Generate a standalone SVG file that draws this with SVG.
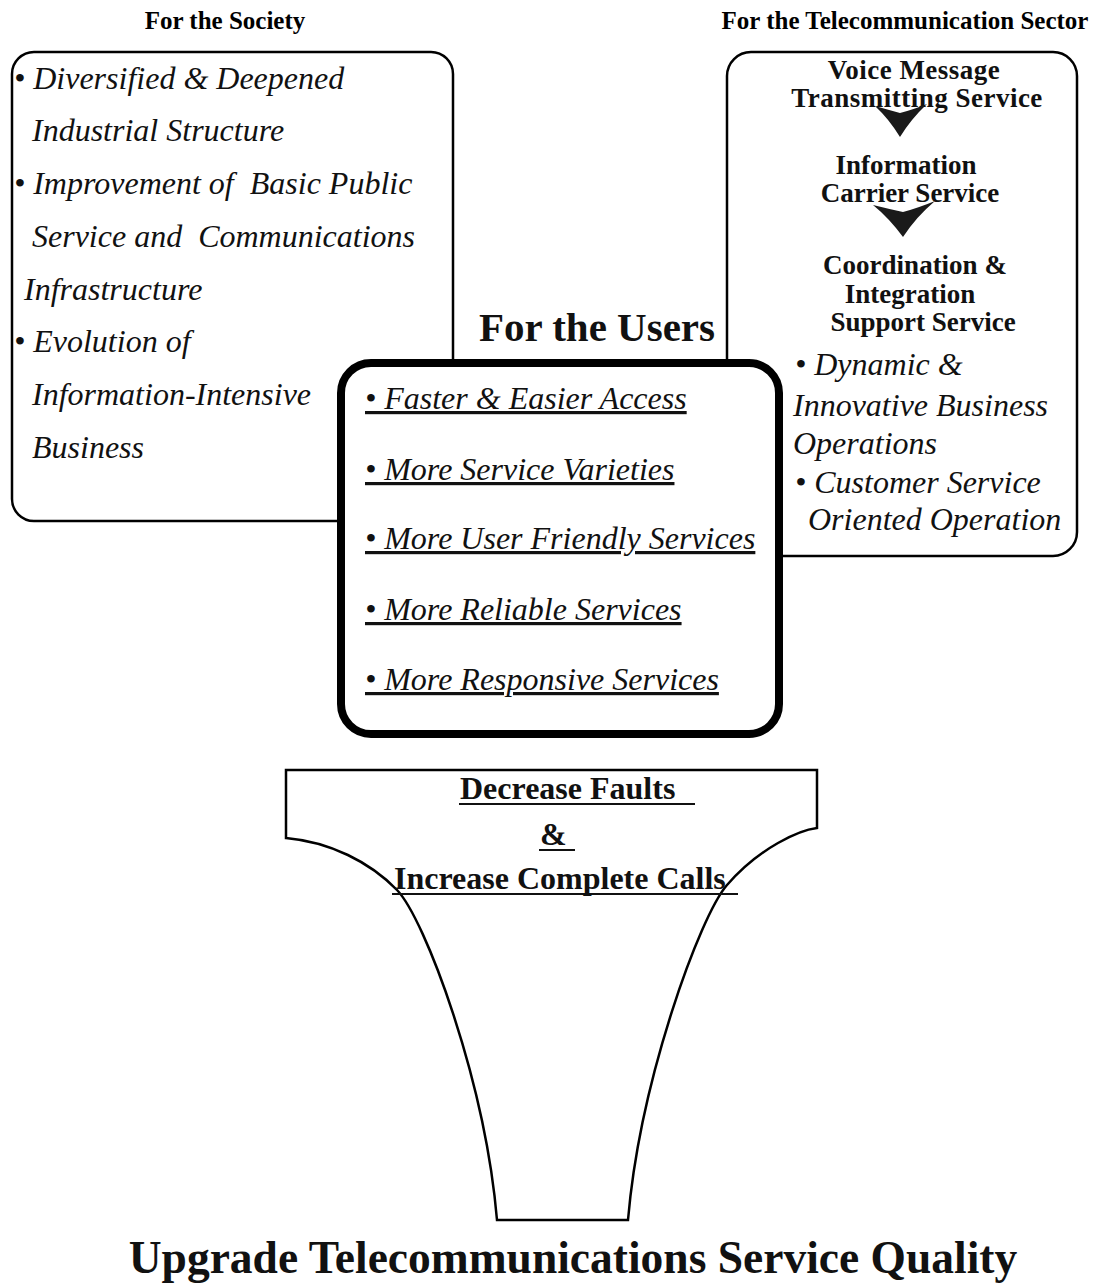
<svg xmlns="http://www.w3.org/2000/svg" width="1111" height="1285" viewBox="0 0 1111 1285">
  <style>
    .hdr { font-family: "Liberation Serif", "Times New Roman", serif; font-weight: bold; font-size: 25px; fill: #000; }
    .it { font-family: "Liberation Serif", "Times New Roman", serif; font-style: italic; font-size: 32px; fill: #111; }
    .bd { font-family: "Liberation Serif", "Times New Roman", serif; font-weight: bold; font-size: 27px; fill: #111; text-anchor: middle; }
    .ul { text-decoration: underline; }
    .box { fill: #fff; stroke: #000; stroke-width: 2.5; }
    .users { fill: #fff; stroke: #000; stroke-width: 8; }
    .funnel { fill: #fff; stroke: #000; stroke-width: 2.5; stroke-linejoin: miter; }
    .fn { font-family: "Liberation Serif", "Times New Roman", serif; font-weight: bold; font-size: 32px; fill: #111; }
    .uline { stroke: #111; stroke-width: 2; }
    .arrow { fill: #1a1a1a; }
    .pre { white-space: pre; }
  </style>

  <!-- column headings -->
  <text class="hdr" x="225" y="29" text-anchor="middle">For the Society</text>
  <text class="hdr" x="905" y="29" text-anchor="middle">For the Telecommunication Sector</text>

  <!-- society box -->
  <g id="society">
    <rect class="box" x="12" y="52" width="441" height="469" rx="22"/>
    <text class="it" x="14" y="89">• Diversified &amp; Deepened</text>
    <text class="it" x="32" y="141">Industrial Structure</text>
    <text class="it pre" x="14" y="194">• Improvement of  Basic Public</text>
    <text class="it pre" x="32" y="247">Service and  Communications</text>
    <text class="it" x="24" y="300">Infrastructure</text>
    <text class="it" x="14" y="352">• Evolution of</text>
    <text class="it" x="32" y="405">Information-Intensive</text>
    <text class="it" x="32" y="458">Business</text>
  </g>

  <!-- telecommunication sector box -->
  <g id="sector">
    <rect class="box" x="727" y="52" width="350" height="504" rx="24"/>
    <text class="bd" x="914" y="79" font-size="25" letter-spacing="0.5">Voice Message</text>
    <text class="bd" x="917" y="107" font-size="25" letter-spacing="0.5">Transmitting Service</text>
    <text class="bd" x="906" y="174">Information</text>
    <text class="bd" x="910" y="202">Carrier Service</text>
    <text class="bd" x="915" y="274">Coordination &amp;</text>
    <text class="bd" x="910" y="303">Integration</text>
    <text class="bd" x="923" y="331">Support Service</text>
    <text class="it" x="795" y="375">• Dynamic &amp;</text>
    <text class="it" x="793" y="416">Innovative Business</text>
    <text class="it" x="793" y="454">Operations</text>
    <text class="it" x="795" y="493">• Customer Service</text>
    <text class="it" x="808" y="530">Oriented Operation</text>
  </g>

  <!-- step arrows inside the sector box -->
  <g id="connectors">
    <path class="arrow" d="M875,106 Q889,110 900,113 Q912,110 927,104 Q911,119 900,137 Q889,119 875,106 Z"/>
    <path class="arrow" d="M873,205 Q889,209 903,212 Q918,208 935,201 Q916,217 903,237 Q889,218 873,205 Z"/>
  </g>

  <!-- users box -->
  <g id="users">
    <text x="597" y="341" text-anchor="middle" font-family="Liberation Serif, Times New Roman, serif" font-weight="bold" font-size="41" fill="#111">For the Users</text>
    <rect class="users" x="341" y="363" width="438" height="371" rx="30"/>
    <text class="it ul" x="365" y="409">• Faster &amp; Easier Access</text>
    <text class="it ul" x="365" y="480">• More Service Varieties</text>
    <text class="it ul" x="365" y="549">• More User Friendly Services</text>
    <text class="it ul" x="365" y="620">• More Reliable Services</text>
    <text class="it ul" x="365" y="690">• More Responsive Services</text>
  </g>

  <!-- funnel -->
  <g id="funnel">
    <path class="funnel" d="M286,770 L817,770 L817,828 C800,830 760,847 727,885 C700,916 640,1080 628,1220 L497,1220 C485,1080 425,919 397,890 C370,862 330,842 286,838 Z"/>
    <text class="fn" x="460" y="799">Decrease Faults</text>
    <line class="uline" x1="459" y1="804" x2="695" y2="804"/>
    <text class="fn" x="540" y="845">&amp;</text>
    <line class="uline" x1="539" y1="850" x2="575" y2="850"/>
    <text class="fn" x="394" y="889">Increase Complete Calls</text>
    <line class="uline" x1="392" y1="894" x2="738" y2="894"/>
  </g>

  <!-- goal -->
  <text x="573" y="1273" text-anchor="middle" font-family="Liberation Serif, Times New Roman, serif" font-weight="bold" font-size="45.5" fill="#111">Upgrade Telecommunications Service Quality</text>
</svg>
